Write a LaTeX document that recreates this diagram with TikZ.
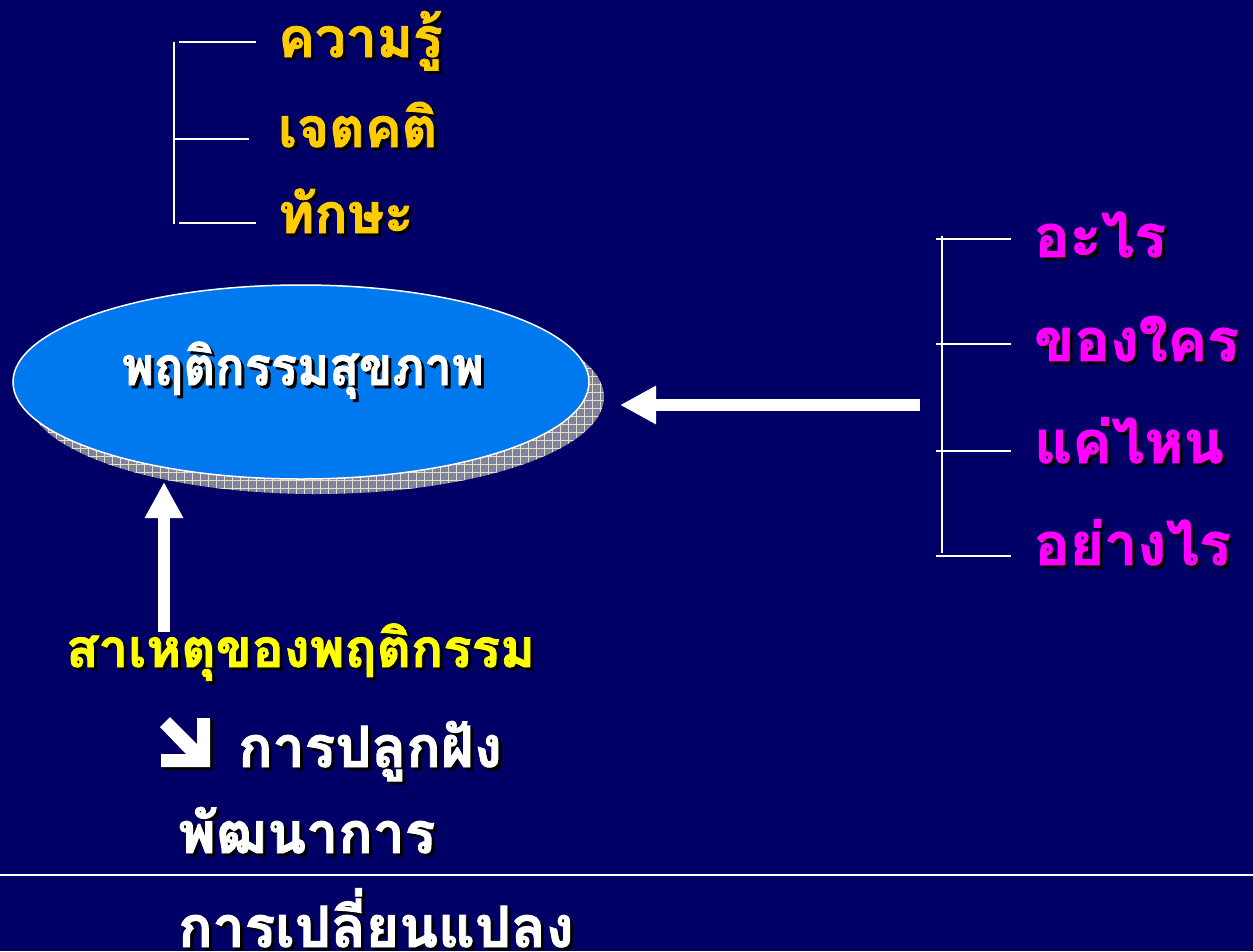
\documentclass[tikz,border=0pt]{standalone}
\usepackage{fontspec}
\newfontfamily\thaifont[Script=Thai, BoldFeatures={FakeBold=1.6}]{Loma}
\usetikzlibrary{shapes.geometric,arrows.meta}
\definecolor{bgnavy}{RGB}{0,0,102}
\definecolor{ellblue}{RGB}{0,120,238}
\definecolor{shgrey}{RGB}{128,128,160}
\definecolor{shgrid}{RGB}{225,225,195}
\definecolor{topyel}{RGB}{255,204,0}
\definecolor{causeyel}{RGB}{255,255,0}
\definecolor{mag}{RGB}{255,0,255}
\tikzset{
  txt/.style={anchor=base west, inner sep=0pt, font=\thaifont\bfseries\fontsize{#1}{#1}\selectfont},
  txt/.default=54,
  bigtxt/.style={anchor=base, inner sep=0pt, font=\thaifont\bfseries\fontsize{53}{56}\selectfont},
  shd/.style={xshift=3pt, yshift=-3pt, text=black},
  brk/.style={draw=white, line width=1.8pt},
  bigarrow/.style={draw=white, line width=12pt, -{Triangle[width=36pt,length=36pt]}}
}
\newcommand\slabel[5]{%
  \node[#4,shd] (#1-sh) at (#2) {#5};
  \node[#4,text=#3] (#1) at (#2) {#5};}
\begin{document}
\begin{tikzpicture}[x=1pt,y=-1pt]
\fill[bgnavy] (0,0) rectangle (1253,951);
\useasboundingbox (0,0) rectangle (1253,951);

% top-left bracket
\draw[brk] (174,42) -- (174,224);
\draw[brk] (179,42) -- (256,42);
\draw[brk] (174,139) -- (249,139);
\draw[brk] (179,223) -- (256,223);
\slabel{k1}{278,57}{topyel}{txt=55}{ความรู้}
\slabel{k2}{278,147}{topyel}{txt=55}{เจตคติ}
\slabel{k3}{278,233}{topyel}{txt=55}{ทักษะ}

% ellipse shadow
\begin{scope}
  \clip (316,397) ellipse [x radius=288pt, y radius=97pt];
  \fill[shgrey] (0,280) rectangle (620,500);
  \foreach \i in {0,...,80} {\draw[shgrid, line width=0.7pt] (\i*8,280) -- (\i*8,500);}
  \foreach \j in {0,...,28} {\draw[shgrid, line width=0.7pt] (0,280+\j*8) -- (620,280+\j*8);}
\end{scope}
\node[ellipse, draw=white, line width=1.5pt, fill=ellblue, minimum width=576pt, minimum height=194pt, inner sep=0pt] (ell) at (301,382) {};
\slabel{et}{303,385}{white}{bigtxt}{\scalebox{0.92}[1]{พฤติกรรมสุขภาพ}}

% arrows
\coordinate (hs) at (920,405);
\coordinate (ht) at (620,405);
\draw[bigarrow] (hs) -- (ht);
\coordinate (vs) at (164,632);
\coordinate (vt) at (164,482);
\draw[bigarrow] (vs) -- (vt);

% right bracket
\draw[brk] (942,236) -- (942,553);
\draw[brk] (936,239) -- (1011,239);
\draw[brk] (936,344) -- (1011,344);
\draw[brk] (936,451) -- (1011,451);
\draw[brk] (936,556) -- (1011,556);
\slabel{q1}{1034,257}{mag}{txt=59}{อะไร}
\slabel{q2}{1034,361}{mag}{txt=59}{ของใคร}
\slabel{q3}{1034,463}{mag}{txt=59}{แค่ไหน}
\slabel{q4}{1034,565}{mag}{txt=59}{อย่างไร}

% causes
\slabel{c0}{66,667}{causeyel}{txt=53}{สาเหตุของพฤติกรรม}
\fill[black] (163,730) -- (173,720) -- (200,747) -- (200,721) -- (213,721) -- (213,770) -- (164,770) -- (164,757) -- (189,757) -- cycle;
\fill[white] (160,727) -- (170,717) -- (197,744) -- (197,718) -- (210,718) -- (210,767) -- (161,767) -- (161,754) -- (186,754) -- cycle;
\slabel{c1}{238,767}{white}{txt=57}{การปลูกฝัง}
\slabel{c2}{178,853}{white}{txt=57}{พัฒนาการ}
\draw[white, line width=2pt] (0,875) -- (1253,875);
\slabel{c3}{178,947}{white}{txt=57}{การเปลี่ยนแปลง}
\end{tikzpicture}
\end{document}
